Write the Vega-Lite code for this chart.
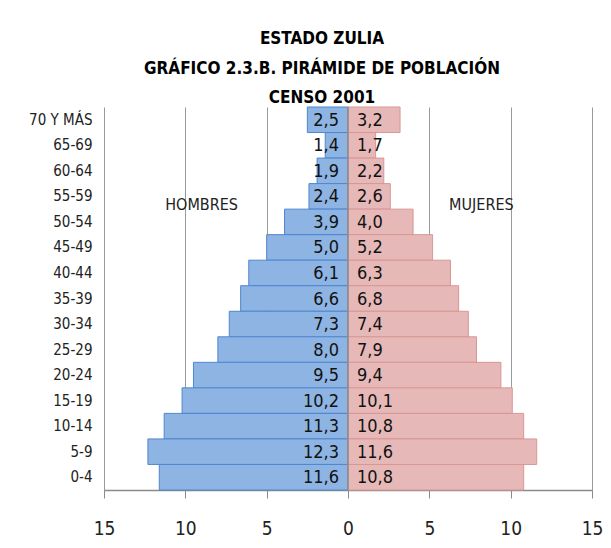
{
  "$schema": "https://vega.github.io/schema/vega-lite/v6.json",
  "width": 488,
  "height": 383,
  "autosize": {"type": "none"},
  "padding": {"left": 104, "top": 107, "right": 19, "bottom": 58},
  "background": "white",
  "config": {
    "view": {"stroke": null},
    "font": "'DejaVu Sans Condensed', Roboto, sans-serif",
    "locale": {"number": {"decimal": ",", "thousands": ".", "grouping": [3], "currency": ["", ""]}}
  },
  "title": {
    "text": ["ESTADO ZULIA", "GRÁFICO 2.3.B. PIRÁMIDE  DE POBLACIÓN", "CENSO 2001"],
    "font": "'DejaVu Sans Condensed', Roboto, sans-serif",
    "fontWeight": "bold",
    "fontSize": 17,
    "lineHeight": 29.5,
    "anchor": "middle",
    "frame": "group",
    "dx": -26,
    "offset": -1,
    "color": "#000000"
  },
  "datasets": {
    "pop": [
      {"edad": "70 Y MÁS", "sexo": "Hombres", "pct": 2.5},
      {"edad": "65-69", "sexo": "Hombres", "pct": 1.4},
      {"edad": "60-64", "sexo": "Hombres", "pct": 1.9},
      {"edad": "55-59", "sexo": "Hombres", "pct": 2.4},
      {"edad": "50-54", "sexo": "Hombres", "pct": 3.9},
      {"edad": "45-49", "sexo": "Hombres", "pct": 5.0},
      {"edad": "40-44", "sexo": "Hombres", "pct": 6.1},
      {"edad": "35-39", "sexo": "Hombres", "pct": 6.6},
      {"edad": "30-34", "sexo": "Hombres", "pct": 7.3},
      {"edad": "25-29", "sexo": "Hombres", "pct": 8.0},
      {"edad": "20-24", "sexo": "Hombres", "pct": 9.5},
      {"edad": "15-19", "sexo": "Hombres", "pct": 10.2},
      {"edad": "10-14", "sexo": "Hombres", "pct": 11.3},
      {"edad": "5-9", "sexo": "Hombres", "pct": 12.3},
      {"edad": "0-4", "sexo": "Hombres", "pct": 11.6},
      {"edad": "70 Y MÁS", "sexo": "Mujeres", "pct": 3.2},
      {"edad": "65-69", "sexo": "Mujeres", "pct": 1.7},
      {"edad": "60-64", "sexo": "Mujeres", "pct": 2.2},
      {"edad": "55-59", "sexo": "Mujeres", "pct": 2.6},
      {"edad": "50-54", "sexo": "Mujeres", "pct": 4.0},
      {"edad": "45-49", "sexo": "Mujeres", "pct": 5.2},
      {"edad": "40-44", "sexo": "Mujeres", "pct": 6.3},
      {"edad": "35-39", "sexo": "Mujeres", "pct": 6.8},
      {"edad": "30-34", "sexo": "Mujeres", "pct": 7.4},
      {"edad": "25-29", "sexo": "Mujeres", "pct": 7.9},
      {"edad": "20-24", "sexo": "Mujeres", "pct": 9.4},
      {"edad": "15-19", "sexo": "Mujeres", "pct": 10.1},
      {"edad": "10-14", "sexo": "Mujeres", "pct": 10.8},
      {"edad": "5-9", "sexo": "Mujeres", "pct": 11.6},
      {"edad": "0-4", "sexo": "Mujeres", "pct": 10.8}
    ],
    "notas": [
      {"label": "HOMBRES", "x": -9.0, "edad": "55-59"},
      {"label": "MUJERES", "x": 8.2, "edad": "55-59"}
    ]
  },
  "encoding": {
    "y": {
      "field": "edad",
      "type": "nominal",
      "sort": ["70 Y MÁS", "65-69", "60-64", "55-59", "50-54", "45-49", "40-44", "35-39", "30-34", "25-29", "20-24", "15-19", "10-14", "5-9", "0-4"],
      "scale": {"paddingInner": 0, "paddingOuter": 0},
      "axis": {
        "title": null,
        "domain": false,
        "ticks": false,
        "labelPadding": 12,
        "labelFontSize": 15,
        "labelColor": "#222222",
        "labelFont": "'DejaVu Sans Condensed', Roboto, sans-serif"
      }
    }
  },
  "layer": [
    {
      "data": {"name": "pop"},
      "transform": [{"calculate": "datum.sexo === 'Hombres' ? -datum.pct : datum.pct", "as": "x"}],
      "mark": {"type": "bar", "strokeWidth": 1},
      "encoding": {
        "x": {
          "field": "x",
          "type": "quantitative",
          "scale": {"domain": [-15, 15], "nice": false, "zero": false},
          "axis": {
            "title": null,
            "values": [-15, -10, -5, 0, 5, 10, 15],
            "labelExpr": "abs(datum.value)",
            "labelFlush": false,
            "grid": true,
            "gridColor": "#9a9a9a",
            "gridWidth": 1,
            "domainColor": "#8a8a8a",
            "domainWidth": 1.5,
            "tickColor": "#8a8a8a",
            "tickSize": 8,
            "labelPadding": 21,
            "labelFontSize": 19,
            "labelColor": "#222222",
            "labelFont": "'DejaVu Sans Condensed', Roboto, sans-serif"
          }
        },
        "color": {
          "field": "sexo",
          "type": "nominal",
          "scale": {"domain": ["Hombres", "Mujeres"], "range": ["#8db4e2", "#e6b9b8"]},
          "legend": null
        },
        "stroke": {
          "field": "sexo",
          "type": "nominal",
          "scale": {"domain": ["Hombres", "Mujeres"], "range": ["#4f86d0", "#d99694"]},
          "legend": null
        }
      }
    },
    {
      "data": {"values": [{"x": 0}]},
      "mark": {"type": "rule", "color": "#8a8a8a", "strokeWidth": 1.5},
      "encoding": {"x": {"field": "x", "type": "quantitative"}, "y": null}
    },
    {
      "data": {"name": "pop"},
      "transform": [{"filter": "datum.sexo === 'Hombres'"}],
      "mark": {"type": "text", "align": "right", "baseline": "middle", "dx": -9, "dy": 1, "fontSize": 18, "color": "#111111", "font": "'DejaVu Sans Condensed', Roboto, sans-serif"},
      "encoding": {
        "x": {"datum": 0, "type": "quantitative"},
        "text": {"field": "pct", "type": "quantitative", "format": ".1f"}
      }
    },
    {
      "data": {"name": "pop"},
      "transform": [{"filter": "datum.sexo === 'Mujeres'"}],
      "mark": {"type": "text", "align": "left", "baseline": "middle", "dx": 9, "dy": 1, "fontSize": 18, "color": "#111111", "font": "'DejaVu Sans Condensed', Roboto, sans-serif"},
      "encoding": {
        "x": {"datum": 0, "type": "quantitative"},
        "text": {"field": "pct", "type": "quantitative", "format": ".1f"}
      }
    },
    {
      "data": {"name": "notas"},
      "mark": {"type": "text", "align": "center", "baseline": "middle", "dy": 9, "fontSize": 16, "color": "#222222", "font": "'DejaVu Sans Condensed', Roboto, sans-serif"},
      "encoding": {
        "x": {"field": "x", "type": "quantitative"},
        "text": {"field": "label", "type": "nominal"}
      }
    }
  ]
}
